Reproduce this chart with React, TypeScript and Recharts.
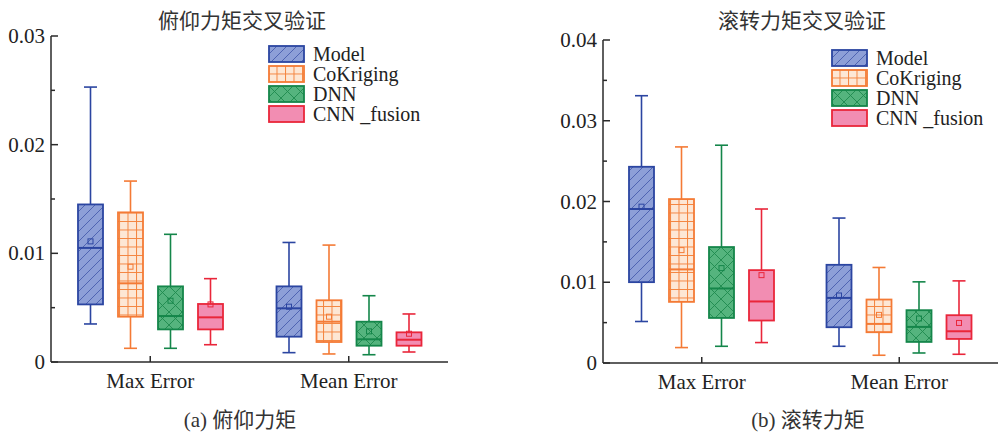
import React from 'react';
import { ComposedChart, Bar, XAxis, YAxis, Legend } from 'recharts';

const categories = ['Max Error', 'Mean Error'];

// each entry: [min, q1, median, q3, max, mean]
const pitchModel = [
  [0.0035, 0.0053, 0.0105, 0.0145, 0.0253, 0.0111],
  [0.00086, 0.00233, 0.00494, 0.00696, 0.011, 0.00509],
];
const pitchCoKriging = [
  [0.00126, 0.00417, 0.00724, 0.01377, 0.01665, 0.00877],
  [0.00074, 0.00184, 0.00371, 0.00568, 0.01076, 0.00417],
];
const pitchDNN = [
  [0.00126, 0.003, 0.00423, 0.00696, 0.01175, 0.00564],
  [0.00067, 0.0015, 0.00209, 0.00371, 0.0061, 0.00282],
];
const pitchCNN = [
  [0.00159, 0.003, 0.00411, 0.00534, 0.00767, 0.0053],
  [0.00092, 0.0015, 0.00205, 0.00273, 0.00442, 0.0026],
];

const rollModel = [
  [0.00514, 0.01001, 0.01907, 0.0243, 0.0331, 0.01936],
  [0.00207, 0.00443, 0.00806, 0.01216, 0.01795, 0.00836],
];
const rollCoKriging = [
  [0.00191, 0.00757, 0.01159, 0.0203, 0.02676, 0.01398],
  [0.00096, 0.00381, 0.00484, 0.00786, 0.01183, 0.00596],
];
const rollDNN = [
  [0.00207, 0.00558, 0.00923, 0.01436, 0.02697, 0.01175],
  [0.00124, 0.00261, 0.00447, 0.00654, 0.01005, 0.00551],
];
const rollCNN = [
  [0.00253, 0.00526, 0.00762, 0.0115, 0.01907, 0.01088],
  [0.00108, 0.00298, 0.00393, 0.00592, 0.01017, 0.00496],
];

const pitchTicks = [0, 0.005, 0.01, 0.015, 0.02, 0.025, 0.03];
const rollTicks = [0, 0.005, 0.01, 0.015, 0.02, 0.025, 0.03, 0.035, 0.04];

const seriesNames = ['Model', 'CoKriging', 'DNN', 'CNN _fusion'];
const strokes = ['#2B45A1', '#F47A35', '#14864A', '#E9263A'];
const fills = ['url(#patModel)', 'url(#patCok)', 'url(#patDnn)', '#F28DB2'];

const serif = '"Liberation Serif", "Times New Roman", serif';
const cjk = '"Liberation Serif", "Noto Sans CJK SC", serif';
const axisColor = '#2a2a2a';

function Patterns() {
  return (
    <svg width={0} height={0} style={{ position: 'absolute' }}>
      <defs>
        <pattern id='patModel' patternUnits='userSpaceOnUse' width={10} height={10}>
          <rect width={10} height={10} fill='#8D9FD7' />
          <path d='M0,10 L10,0 M-2.5,2.5 L2.5,-2.5 M7.5,12.5 L12.5,7.5' stroke='#3F55A8' strokeWidth={0.8} />
        </pattern>
        <pattern id='patCok' patternUnits='userSpaceOnUse' width={8.5} height={8.5}>
          <rect width={8.5} height={8.5} fill='#FDE7D5' />
          <path d='M0,0.5 H8.5 M0.5,0 V8.5' stroke='#F4843F' strokeWidth={1} />
        </pattern>
        <pattern id='patDnn' patternUnits='userSpaceOnUse' width={13} height={13}>
          <rect width={13} height={13} fill='#55B47E' />
          <path d='M0,0 L13,13 M13,0 L0,13' stroke='#1E8A4E' strokeWidth={0.9} />
        </pattern>
      </defs>
    </svg>
  );
}

function BoxShape(props: any) {
  const { x, y, width, height, st, color, fill } = props;
  if (!st) return null;
  const [mn, q1, md, q3, mx, mean] = st;
  const top = Math.min(y, y + height);
  const h = Math.abs(height);
  const py = (v: number) => top + (h * (mx - v)) / (mx - mn);
  const cx = x + width / 2;
  const cap = 6.5;
  return (
    <g>
      <line x1={cx} x2={cx} y1={py(mx)} y2={py(q3)} stroke={color} strokeWidth={1.6} />
      <line x1={cx} x2={cx} y1={py(q1)} y2={py(mn)} stroke={color} strokeWidth={1.6} />
      <line x1={cx - cap} x2={cx + cap} y1={py(mx)} y2={py(mx)} stroke={color} strokeWidth={1.6} />
      <line x1={cx - cap} x2={cx + cap} y1={py(mn)} y2={py(mn)} stroke={color} strokeWidth={1.6} />
      <rect x={x} y={py(q3)} width={width} height={py(q1) - py(q3)} fill={fill} stroke={color} strokeWidth={1.8} />
      <line x1={x} x2={x + width} y1={py(md)} y2={py(md)} stroke={color} strokeWidth={2} />
      <rect x={cx - 2.5} y={py(mean) - 2.5} width={5} height={5} fill='none' stroke={color} strokeWidth={1} />
    </g>
  );
}

function YTick(props: any) {
  const { x, y, payload } = props;
  const v = payload.value;
  const major = Math.round(v * 1000) % 10 === 0;
  return (
    <g>
      <line x1={x} x2={x + (major ? 7 : 4)} y1={y} y2={y} stroke={axisColor} strokeWidth={1.5} />
      {major && (
        <text x={x - 6} y={y} dy={7} textAnchor='end' fontFamily={serif} fontSize={21} fill='#222'>
          {v === 0 ? '0' : v.toFixed(2)}
        </text>
      )}
    </g>
  );
}

function XTick(props: any) {
  const { x, y, payload } = props;
  return (
    <g>
      <line x1={x} x2={x} y1={y} y2={y - 6} stroke={axisColor} strokeWidth={1.5} />
      <text x={x} y={y + 26} textAnchor='middle' fontFamily={serif} fontSize={21} fill='#222'>
        {payload.value}
      </text>
    </g>
  );
}

function LegendBox() {
  return (
    <div>
      {seriesNames.map((name, i) => (
        <div key={name} style={{ display: 'flex', alignItems: 'center', height: 20 }}>
          <svg width={37} height={18}>
            <rect x={1} y={1} width={35} height={16} fill={fills[i]} stroke={strokes[i]} strokeWidth={1.8} />
          </svg>
          <span style={{ marginLeft: 8, fontFamily: serif, fontSize: 20, lineHeight: '20px', color: '#222' }}>
            {name}
          </span>
        </div>
      ))}
    </div>
  );
}

type PanelProps = {
  width: number;
  margin: { top: number; right: number; bottom: number; left: number };
  yMax: number;
  ticks: number[];
  stats: number[][][];
  legendPos: { left: number; top: number };
};

function Panel({ width, margin, yMax, ticks, stats, legendPos }: PanelProps) {
  const data = categories.map((category, i) => {
    const row: any = { category };
    stats.forEach((s, k) => {
      row[`s${k}`] = [s[i][0], s[i][4]];
    });
    return row;
  });

  return (
    <ComposedChart width={width} height={433} data={data} margin={margin} barGap={15}>
      <XAxis
        dataKey='category'
        height={30}
        axisLine={{ stroke: axisColor, strokeWidth: 1.5 }}
        tickLine={false}
        tickSize={0}
        tickMargin={0}
        tick={<XTick />}
      />
      <XAxis
        xAxisId='top'
        dataKey='category'
        orientation='top'
        height={0}
        axisLine={{ stroke: axisColor, strokeWidth: 1.5 }}
        tick={false}
        tickLine={false}
      />
      <YAxis
        domain={[0, yMax]}
        ticks={ticks}
        width={45}
        axisLine={{ stroke: axisColor, strokeWidth: 1.5 }}
        tickLine={false}
        tickSize={0}
        tickMargin={0}
        tick={<YTick />}
        interval={0}
      />
      <YAxis
        yAxisId='right'
        orientation='right'
        domain={[0, yMax]}
        width={0}
        axisLine={{ stroke: axisColor, strokeWidth: 1.5 }}
        tick={false}
        tickLine={false}
      />
      {stats.map((s, k) => (
        <Bar
          key={k}
          dataKey={`s${k}`}
          barSize={25}
          isAnimationActive={false}
          shape={(p: any) => (
            <BoxShape
              {...p}
              st={s[categories.indexOf(p.payload.category)]}
              color={strokes[k]}
              fill={fills[k]}
            />
          )}
        />
      ))}
      <Legend
        layout='vertical'
        align='center'
        verticalAlign='middle'
        content={<LegendBox />}
        wrapperStyle={{ left: legendPos.left, top: legendPos.top, width: 'auto' }}
      />
    </ComposedChart>
  );
}

const textStyle: React.CSSProperties = {
  position: 'absolute',
  fontFamily: cjk,
  fontSize: 21,
  color: '#333',
  textAlign: 'center',
  whiteSpace: 'nowrap',
  lineHeight: '24px',
};

export default function App() {
  return (
    <div style={{ position: 'absolute', left: 0, top: 0, width: 1003, height: 433, background: '#fff' }}>
      <Patterns />
      <div style={{ position: 'absolute', left: 0, top: 0 }}>
        <Panel
          width={500}
          margin={{ top: 36, right: 52, bottom: 41, left: 6 }}
          yMax={0.03}
          ticks={pitchTicks}
          stats={[pitchModel, pitchCoKriging, pitchDNN, pitchCNN]}
          legendPos={{ left: 268, top: 44 }}
        />
      </div>
      <div style={{ position: 'absolute', left: 500, top: 0 }}>
        <Panel
          width={503}
          margin={{ top: 40, right: 5, bottom: 40, left: 58 }}
          yMax={0.04}
          ticks={rollTicks}
          stats={[rollModel, rollCoKriging, rollDNN, rollCNN]}
          legendPos={{ left: 331, top: 48 }}
        />
      </div>
      <div style={{ ...textStyle, left: 142, top: 9, width: 200 }}>俯仰力矩交叉验证</div>
      <div style={{ ...textStyle, left: 702, top: 9, width: 200 }}>滚转力矩交叉验证</div>
      <div style={{ ...textStyle, left: 140, top: 408, width: 200 }}>(a) 俯仰力矩</div>
      <div style={{ ...textStyle, left: 708, top: 408, width: 200 }}>(b) 滚转力矩</div>
    </div>
  );
}
